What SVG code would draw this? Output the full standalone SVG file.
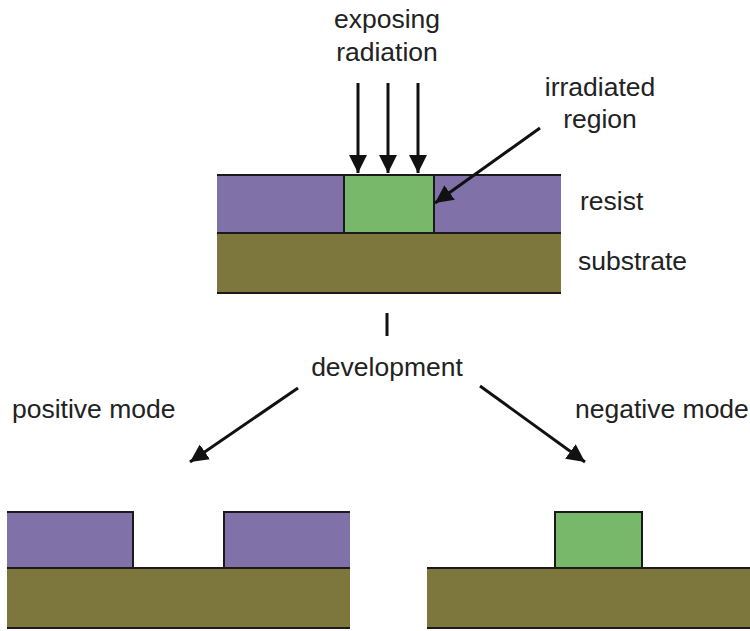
<svg xmlns="http://www.w3.org/2000/svg" width="750" height="631" viewBox="0 0 750 631">
<style>
.t{font-family:"Liberation Sans",Arial,sans-serif;font-size:26.5px;fill:#222}
.r{fill:#8072a8}
.g{fill:#77b86b}
.s{fill:#7d773d}
.e{stroke:#1a1a1a;stroke-width:2;fill:none}
.a{stroke:#111;stroke-width:3;fill:none;marker-end:url(#ah)}
</style>
<defs>
<marker id="ah" markerUnits="userSpaceOnUse" markerWidth="19" markerHeight="18" refX="18" refY="9" orient="auto">
<path d="M0,0 L18,9 L0,18 z" fill="#111"/>
</marker>
</defs>
<rect width="750" height="631" fill="#fff"/>
<g id="top-stack">
<rect class="r" x="217" y="175" width="344" height="58"/>
<rect class="g" x="344" y="175" width="90" height="58"/>
<rect class="s" x="217" y="233" width="344" height="60"/>
<path class="e" d="M217,175H561M217,233H561M217,293H561M344,175V233M434,175V233"/>
</g>
<g id="positive-result">
<rect class="r" x="7" y="512" width="126" height="56"/>
<rect class="r" x="224" y="512" width="126" height="56"/>
<rect class="s" x="7" y="568" width="343" height="60"/>
<path class="e" d="M7,512H133V568M224,568V512H350M7,568H350M7,628H350"/>
</g>
<g id="negative-result">
<rect class="s" x="427" y="568" width="323" height="60"/>
<rect class="g" x="555" y="512" width="87" height="56"/>
<path class="e" d="M427,568H750M427,628H750M555,568V512H642V568"/>
</g>
<g id="labels">
<text class="t" x="387" y="28" text-anchor="middle">exposing</text>
<text class="t" x="387" y="61" text-anchor="middle">radiation</text>
<text class="t" x="600" y="96" text-anchor="middle">irradiated</text>
<text class="t" x="600" y="128" text-anchor="middle">region</text>
<text class="t" x="580" y="210">resist</text>
<text class="t" x="578" y="270">substrate</text>
<text class="t" x="387" y="376" text-anchor="middle">development</text>
<text class="t" x="12" y="418">positive mode</text>
<text class="t" x="575" y="418">negative mode</text>
</g>
<g id="connectors">
<line class="a" x1="358" y1="83" x2="358" y2="173"/>
<line class="a" x1="388" y1="83" x2="388" y2="173"/>
<line class="a" x1="418" y1="83" x2="418" y2="173"/>
<line class="a" x1="540" y1="128" x2="435" y2="203"/>
<line stroke="#111" stroke-width="3" x1="387" y1="313" x2="387" y2="336"/>
<line class="a" x1="298" y1="388" x2="190" y2="462"/>
<line class="a" x1="480" y1="386" x2="585" y2="462"/>
</g>
</svg>
